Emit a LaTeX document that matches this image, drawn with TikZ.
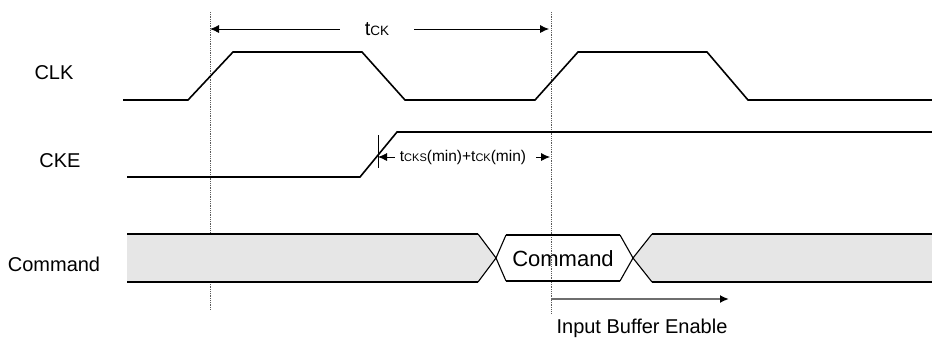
\documentclass[tikz,border=0pt]{standalone}
\usepackage{fontspec}
\setmainfont{Liberation Sans}
\usetikzlibrary{arrows.meta}
\definecolor{busgray}{RGB}{230,230,230}
\definecolor{dotgray}{RGB}{90,90,90}
\definecolor{ibegray}{RGB}{110,110,110}
\begin{document}
\begin{tikzpicture}[x=1pt,y=-1pt,
  lbl/.style={inner sep=0pt,font=\fontsize{20}{24}\selectfont},
  sig/.style={line width=1.6pt,line join=miter,black},
  edge/.style={line width=1.1pt,line join=miter,black},
  guide/.style={line width=0.8pt,densely dotted,dotgray},
  dim/.style={line width=0.8pt,-{Latex[length=9pt,width=8pt]}},
  ibe/.style={line width=1.8pt,ibegray,-{Latex[length=9pt,width=8pt,black]}}]
\useasboundingbox (0,0) rectangle (932,341);
% labels
\node[lbl] (clk) at (54,73) {CLK};
\node[lbl] (cke) at (60,161) {CKE};
\node[lbl] (cmd) at (54,264) {Command};
% guide lines
\coordinate (g1t) at (210,12);
\coordinate (g1b) at (210,310);
\coordinate (g2t) at (551,12);
\coordinate (g2b) at (551,313);
\draw[guide] (g1t) -- (g1b);
\draw[guide] (g2t) -- (g2b);
% CLK
\draw[sig] (123,100) -- (188,100) -- (233,52) -- (362,52) -- (405,100) -- (535,100)
  -- (578,52) -- (707,52) -- (748,100) -- (932,100);
% CKE
\draw[sig] (127,177) -- (360,177) -- (397,132) -- (932,132);
% tCK
\node[inner ysep=0pt,inner xsep=25pt] (tck) at (377,29)
  {\fontsize{20}{22}\selectfont t\fontsize{13.5}{15}\selectfont CK};
\coordinate (tckl) at (210,29);
\coordinate (tckr) at (549,29);
\draw[dim] (tck.west) -- (tckl);
\draw[dim] (tck.east) -- (tckr);
% tCKS
\coordinate (tickt) at (378,135);
\coordinate (tickb) at (378,168);
\draw[line width=0.8pt] (tickt) -- (tickb);
\node[inner ysep=0pt,inner xsep=5pt] (tcks) at (463,157)
  {\fontsize{15.5}{18}\selectfont t\fontsize{11}{13}\selectfont CKS\fontsize{15.5}{18}\selectfont(min)+t\fontsize{11}{13}\selectfont CK\fontsize{15.5}{18}\selectfont(min)};
\coordinate (tcksl) at (378,157);
\coordinate (tcksr) at (550,157);
\draw[dim] (tcks.west) -- (tcksl);
\draw[dim,shorten <=5pt] (tcks.east) -- (tcksr);
% Command bus
\fill[busgray] (127,234) -- (478,234) -- (496,258) -- (478,282) -- (127,282) -- cycle;
\draw[sig] (127,234) -- (478,234);
\draw[sig] (127,282) -- (478,282);
\draw[edge] (478,234) -- (496,258) -- (478,282);
\draw[edge] (506,235) -- (496,258) -- (506,281);
\draw[sig] (506,235) -- (620,235);
\draw[sig] (506,281) -- (620,281);
\draw[edge] (620,235) -- (633,258) -- (620,281);
\fill[busgray] (932,234) -- (652,234) -- (633,258) -- (652,282) -- (932,282) -- cycle;
\draw[edge] (652,234) -- (633,258) -- (652,282);
\draw[sig] (652,234) -- (932,234);
\draw[sig] (652,282) -- (932,282);
\node[lbl,font=\fontsize{22}{26}\selectfont] (cmdv) at (563,259) {Command};
% Input buffer enable
\coordinate (ibes) at (551,299);
\coordinate (ibee) at (729,299);
\draw[ibe] (ibes) -- (ibee);
\node[lbl] (ibel) at (642,328) {Input Buffer Enable};
\end{tikzpicture}
\end{document}
